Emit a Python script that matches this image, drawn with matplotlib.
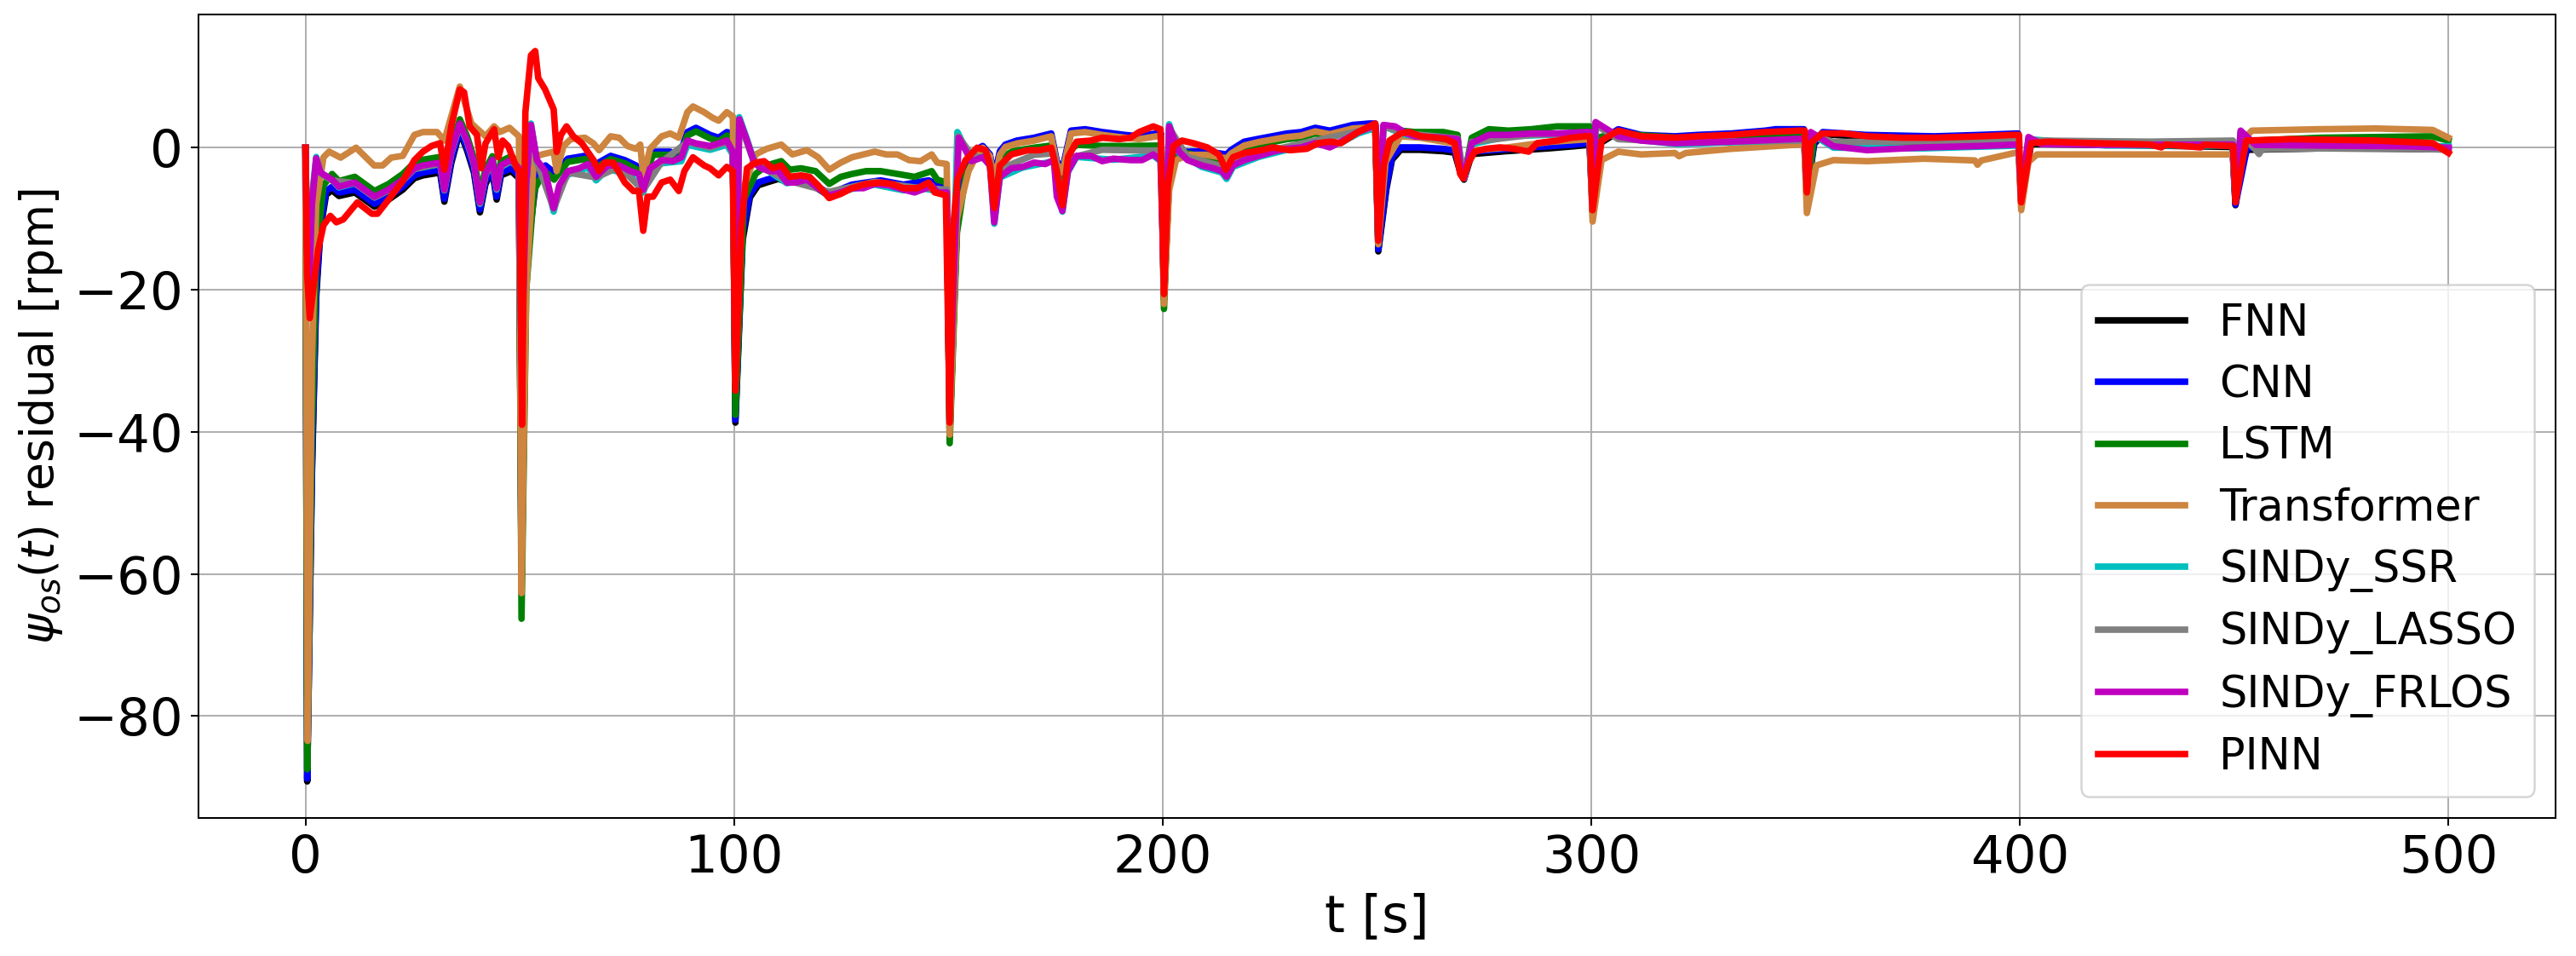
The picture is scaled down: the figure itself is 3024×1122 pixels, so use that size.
import numpy as np
import matplotlib.pyplot as plt


# residual traces, (t [s], residual [rpm]) pairs
fnn = [(0, 0), (0.4, -89.2), (1.5, -46), (2.5, -21), (3.5, -11.5), (4.8, -6.6), (6.2, -6.0), (7.8, -6.8), (11.5, -6.3),
       (16.1, -8.3), (19.4, -7.3), (22.7, -5.9), (25.4, -4.3), (27.4, -3.9), (31.4, -3.5), (32.4, -7.6), (34, -2.2),
       (36, 2.3), (37.7, -0.4), (39.3, -3.5), (40.7, -9.1), (42, -5.1), (43.6, -3.3), (44.6, -7.3), (45.6, -3.9),
       (48, -3.3), (49.8, -4.3), (50.4, -61), (51.5, -16), (54, -3.6), (56, -2.8), (58, -3.8), (61.2, -1.8),
       (65.2, -1.4), (67.2, -2.8), (71.2, -1.4), (74.5, -2.0), (77.1, -2.8), (78.8, -3.8), (81.1, -0.8), (85.1, -0.8),
       (87.1, -1.6), (89.1, 1.9), (91.1, 2.5), (94.4, 1.5), (96.4, 1.1), (98.3, 1.9), (99.7, 1.7), (100.3, -38.7),
       (102, -13), (103.7, -7.0), (105.6, -5.3), (107.6, -4.9), (110.3, -4.4), (113, -4.9), (117, -4.8), (122.2, -6.8),
       (127.5, -5.5), (134.2, -4.9), (139.5, -5.5), (145.4, -4.9), (149.6, -6.1), (150.3, -40), (152, -11),
       (154, -3.3), (156, -0.8), (158, 0.0), (159.7, -1.2), (160.7, -4.4), (162, -0.8), (163.3, 0.2), (166, 0.7),
       (170, 1.1), (174, 1.7), (175.3, -2.2), (176.6, -3.3), (178.6, 2.1), (181.9, 2.3), (185.9, 1.9), (191.2, 1.5),
       (194.5, 1.3), (198.5, 1.7), (199.6, 1.7), (200.3, -21.3), (201.5, -4.5), (203, -0.8), (205.8, -0.9),
       (210, -0.8), (214.9, -1.3), (216, -0.6), (219, 0.5), (222.4, 0.9), (229, 1.7), (232.3, 1.9), (235.6, 2.5),
       (239, 2.1), (244.3, 2.9), (249.6, 3.1), (250.3, -14.6), (252.2, -5.8), (253.5, -1.7), (255.5, -0.3),
       (260, -0.3), (265.5, -0.5), (268.1, -0.7), (269.6, -3.8), (270.3, -4.5), (272.1, -0.9), (280, -0.5),
       (290, -0.1), (296, 0.2), (299.6, 0.4), (300.3, -9.2), (302, 0.6), (306.3, 2.2), (311.6, 1.4), (319.5, 1.2),
       (332.7, 1.6), (343, 2.2), (349.6, 2.2), (350.3, -6.8), (352, 0.5), (354, 1.9), (364, 1.5), (380, 1.3),
       (390.8, 1.5), (399.6, 1.7), (400.3, -7.8), (402.6, 0.5), (420, 0.4), (449.6, 0.1), (450.3, -8.1),
       (451.5, -3), (453, -0.3), (470, -0.1), (500, -0.2)]

cnn = [(0, 0), (0.4, -88.8), (1.5, -45), (2.5, -20), (3.5, -10.9), (4.8, -6.1), (6.2, -5.5), (7.8, -6.3), (11.5, -5.9),
       (16.1, -7.9), (19.4, -6.9), (22.7, -5.5), (25.4, -3.9), (27.4, -3.5), (31.4, -3.1), (32.4, -7.2), (34, -1.8),
       (36, 2.6), (37.7, 0.0), (39.3, -3.1), (40.7, -8.7), (42, -4.7), (43.6, -2.9), (44.6, -6.9), (45.6, -3.5),
       (48, -2.9), (49.8, -3.9), (50.4, -62), (51.5, -15), (54, -3.3), (56, -2.5), (58, -3.5), (61.2, -1.55),
       (65.2, -1.15), (67.2, -2.5), (71.2, -1.15), (74.5, -1.75), (77.1, -2.5), (78.8, -3.5), (81.1, -0.56),
       (85.1, -0.56), (87.1, -1.35), (89.1, 2.2), (91.1, 2.8), (94.4, 1.8), (96.4, 1.4), (98.3, 2.2), (99.7, 2.0),
       (100.3, -38.3), (102, -12), (103.7, -6.5), (105.6, -4.9), (107.6, -4.5), (110.3, -4.1), (113, -4.6),
       (117, -4.5), (122.2, -6.5), (127.5, -5.2), (134.2, -4.6), (139.5, -5.2), (145.4, -4.6), (149.6, -5.8),
       (150.3, -40), (152, -10), (154, -3), (156, -0.5), (158, 0.24), (159.7, -0.95), (160.7, -4.1), (162, -0.5),
       (163.3, 0.44), (166, 1.0), (170, 1.4), (174, 2.0), (175.3, -1.9), (176.6, -3), (178.6, 2.4), (181.9, 2.6),
       (185.9, 2.2), (191.2, 1.8), (194.5, 1.6), (198.5, 2.0), (199.6, 2.0), (200.3, -21), (201.5, -4), (203, -0.5),
       (205.8, -0.56), (210, -0.5), (214.9, -0.95), (216, -0.3), (219, 0.84), (222.4, 1.25), (229, 2.0),
       (232.3, 2.2), (235.6, 2.8), (239, 2.4), (244.3, 3.2), (248.2, 3.4), (249.6, 3.4), (250.3, -14.3),
       (252.2, -5.3), (253.5, -1.35), (255.5, 0.04), (260, 0.04), (265.5, -0.16), (268.1, -0.36), (269.6, -3.5),
       (270.3, -4.3), (272.1, -0.56), (280, -0.2), (290, 0.2), (296, 0.44), (299.6, 0.64), (300.3, -9), (302, 1.0),
       (306.3, 2.6), (311.6, 1.8), (319.5, 1.6), (324.8, 1.8), (332.7, 2.0), (340.6, 2.4), (343, 2.6), (349.6, 2.6),
       (350.3, -6.5), (352, 0.8), (354, 2.2), (364, 1.8), (380, 1.6), (390.8, 1.8), (399.6, 2.0), (400.3, -7.6),
       (402.6, 0.8), (420, 0.7), (449.6, 0.4), (450.3, -8), (453, 0.0), (470, 0.2), (500, 0.0)]

lstm = [(0, 0), (0.4, -87.5), (1.5, -40), (2.5, -15), (4.2, -5.3), (6.2, -3.7), (7.8, -4.7), (11.5, -4.1),
        (16.1, -6.1), (19.4, -5.1), (22.7, -3.7), (25.4, -2.1), (27.4, -1.7), (31.4, -1.3), (32.4, -5.5), (34, 0),
        (36, 4.0), (37.7, 1.6), (39.3, -1.5), (40.7, -6.5), (42, -3.0), (43.6, -1.2), (44.6, -5.0), (45.6, -1.9),
        (48, -1.2), (49.8, -2.2), (50.4, -66.3), (51.5, -20), (53.3, -6.1), (54.6, -4.5), (56.6, -3.7), (58, -4.5),
        (61.2, -2.0), (65.2, -1.6), (67.2, -3.0), (71.2, -1.6), (74.5, -2.2), (77.1, -3.0), (78.8, -4.5),
        (81.1, -1.0), (85.1, -1.0), (87.1, -1.8), (89.1, 1.7), (91.1, 2.3), (94.4, 1.3), (96.4, 0.9), (98.3, 1.7),
        (99.7, 1.5), (100.3, -37.6), (102.3, -7.3), (105, -3.7), (107.6, -2.5), (111, -1.9), (113, -3.1),
        (115.6, -2.9), (119, -3.3), (122.2, -5.1), (124.9, -4.1), (127.5, -3.7), (130.8, -3.3), (134.2, -3.3),
        (138.1, -3.7), (142.1, -4.1), (146.1, -3.3), (147.4, -4.5), (149.6, -4.9), (150.3, -41.6), (152, -12),
        (154, -4), (156, -1.5), (158, -0.5), (159.7, -1.5), (160.7, -6), (162, -1.5), (165, -0.5), (170, 0.0),
        (174, 0.3), (175.3, -3.5), (176.6, -5), (178, -0.5), (180, 0.4), (185.9, 0.24), (192, 0.24), (198.5, 0.3),
        (199.6, 0.3), (200.3, -22.7), (201.5, -4), (203, -1), (206, -0.8), (210, -1.5), (213.8, -2.0), (214.9, -3),
        (216.4, -1.5), (219, 0.0), (222.4, 0.4), (229, 1.2), (232.3, 1.4), (235.6, 2.0), (239, 1.6), (244.3, 2.4),
        (249.6, 2.6), (250.3, -13.5), (252, -1), (255.5, 2.4), (258.8, 2.2), (265.5, 2.2), (268.8, 1.8),
        (269.6, -3.5), (270.3, -4.3), (272.1, 1.4), (276.1, 2.6), (280.7, 2.4), (286, 2.6), (292, 3.0),
        (299.6, 3.0), (300.3, -9), (302, 1.5), (306, 2.0), (320, 1.4), (335, 1.6), (349.6, 2.0), (350.3, -7),
        (352, 1.8), (356, 0.6), (370, 0.8), (390, 1.0), (399.6, 1.2), (400.3, -7.5), (402, 0.8), (420, 0.6),
        (449.6, 0.6), (450.3, -7.5), (452, 0.2), (455, 1.0), (470, 1.4), (496, 1.6), (500, 1.0)]

transformer = [(0, 0), (0.5, -83.5), (1.5, -30), (2.5, -8), (4.2, -1.35), (5.5, -0.56), (8.2, -1.4), (11.8, 0.0),
               (16, -2.5), (18, -2.5), (20, -1.4), (22.7, -1.15), (25.4, 1.8), (27.4, 2.2), (30.7, 2.2), (32.4, 1.0),
               (36, 8.6), (38.7, 3.4), (42, 1.6), (44, 3.0), (45.3, 2.2), (47.6, 2.8), (49.8, 1.6), (50.4, -62.7),
               (51.5, -20), (53.3, -1.35), (55.2, -0.95), (57.9, -0.56), (58.6, -3.3), (60.2, 0.24), (61.9, 1.2),
               (65.2, 1.4), (67.2, 0.6), (68.5, -0.36), (71.2, 1.6), (73.2, 1.4), (75.1, 0.24), (77.1, -0.16),
               (78.1, 0.44), (78.8, -4.0), (80.4, -0.16), (83.1, 1.6), (85.1, 2.0), (87.1, 1.4), (89.1, 5.0),
               (90.4, 5.8), (93, 5.0), (95, 4.2), (96.4, 3.8), (98.3, 5.0), (99.7, 4.4), (100.3, -33), (102, -6),
               (105, -0.95), (107.6, -0.16), (111, 0.44), (113.6, -0.95), (117, -0.36), (119.6, -1.35),
               (122.2, -3.1), (124.9, -2.1), (127.5, -1.35), (132.8, -0.56), (135.5, -0.95), (138.1, -0.95),
               (140.8, -1.75), (143.5, -1.9), (146.1, -0.95), (147.4, -2.1), (149.6, -2.3), (150.3, -40.4),
               (152, -10), (154.7, -3.3), (156, -1.75), (158, 0.0), (159.7, -1.2), (160.7, -5), (162, -1),
               (163.3, 0.1), (166, 0.6), (170, 1.0), (174, 1.6), (175.3, -2.3), (176.6, -3.5), (178.6, 2.0),
               (181.9, 2.2), (185.9, 1.8), (191.2, 1.4), (194.5, 1.2), (198.5, 1.6), (199.6, 1.6), (200.3, -22),
               (201.5, -6), (203.1, -1.75), (206, -1.0), (210, -1.0), (214.9, -1.5), (216, -0.8), (219, 0.3),
               (222.4, 0.8), (229, 1.5), (232.3, 1.7), (235.6, 2.3), (239, 1.9), (244.3, 2.7), (249.6, 2.9),
               (250.3, -13.6), (252, -2), (255.5, 1.6), (260, 1.4), (268, 0.6), (269.6, -3.5), (270.3, -4.3),
               (272.1, -0.4), (280, 0), (290, 0.8), (299.6, 1.2), (300.3, -10.4), (302.4, -1.75), (306.3, -0.56),
               (311.6, -0.95), (319.5, -0.75), (320.5, -1.2), (322, -0.75), (332.7, -0.16), (348.5, 0.44),
               (349.7, 0.44), (350.3, -9.2), (352.5, -2.5), (356.5, -1.75), (364.4, -1.9), (377.6, -1.55),
               (389.5, -1.8), (390.1, -2.4), (391, -1.8), (398.7, -0.75), (399.7, -0.75), (400.3, -8.8), (402, -2),
               (404, -0.95), (430, -0.95), (449.7, -0.95), (450.3, -7), (452, 1.0), (454.1, 2.4), (469.9, 2.6),
               (483.1, 2.7), (496.3, 2.5), (500, 1.4)]

sindy_ssr = [(0, 0), (0.4, -15), (0.8, -20), (1.5, -7), (2.5, -1.3), (3.5, -3.6), (6.2, -4.6), (7.8, -5.6),
             (11.5, -5.0), (16.1, -7.0), (19.4, -6.0), (22.7, -4.6), (25.4, -3.0), (31.4, -2.3), (32.4, -6.0),
             (34, -0.8), (36, 3.2), (37.7, 0.8), (39.3, -2.3), (40.7, -7.9), (42, -3.9), (43.6, -1.9), (44.6, -5.9),
             (45.6, -2.7), (48, -1.9), (49.8, -3.0), (50.4, -30), (51.5, -5), (52.6, 3.4), (54, -2.2), (55.9, -3.8),
             (57.9, -9.0), (59.2, -5.8), (61.2, -3.8), (65.9, -2.8), (67.8, -4.6), (70.5, -3.0), (75.8, -3.8),
             (78.8, -6.3), (80.4, -3.4), (83.1, -2.2), (87.7, -1.9), (89.1, 0.4), (94.4, -0.3), (98.3, 0.4),
             (99.7, -1.0), (100.3, -30), (101.2, 4.3), (103, 1.2), (104.7, -2.0), (108.3, -3.4), (112.3, -5.0),
             (117, -4.6), (122.2, -6.8), (127.5, -5.8), (132.8, -5.2), (139.5, -6.0), (144.8, -5.8), (149.6, -6.4),
             (150.3, -35), (152.1, 2.2), (155.4, -1.8), (158, -1.3), (159.7, -2.5), (160.7, -10.7), (162, -4.2),
             (167.3, -2.8), (174.6, -1.9), (176.6, -9.0), (177.9, -3.4), (179.9, -1.3), (188.5, -1.7), (197.8, -1.1),
             (199.5, -1.9), (200.3, -19), (201.5, 3.3), (203.8, -0.7), (209.1, -2.7), (213.8, -3.5), (214.9, -4.4),
             (216.4, -2.7), (222.4, -1.3), (229, -0.3), (235.6, 0.5), (241.6, 0.7), (245.6, 2.0), (249.7, 2.8),
             (250.3, -12), (251.5, 3.0), (256.9, 1.8), (268.8, 1.0), (270.3, -4.3), (272.1, 0.5), (280.7, 1.6),
             (298.6, 2.0), (299.7, 2.0), (300.3, -8), (301, 3.5), (306.3, 1.4), (320, 0.5), (349.8, 1.1),
             (350.3, -6), (351.2, 2.0), (356.5, 0.0), (377.6, -0.1), (399.7, 0.3), (400.3, -7), (402, 1.2),
             (420, 0.3), (449.7, 0.3), (450.3, -7), (451.5, 2.2), (455, 0.2), (500, 0.2)]

sindy_lasso = [(0, 0), (0.4, -15), (0.8, -20), (1.5, -7.5), (2.5, -1.6), (3.5, -3.6), (6.2, -4.6), (11.5, -5.0),
               (16.1, -7.0), (19.4, -6.0), (22.7, -4.6), (25.4, -3.0), (31.4, -2.2), (32.4, -6.0), (34, -0.7),
               (36, 3.3), (37.7, 0.9), (39.3, -2.2), (40.7, -7.8), (42, -3.8), (43.6, -1.8), (44.6, -5.8),
               (45.6, -2.6), (48, -1.8), (49.8, -3.0), (50.4, -30), (51.5, -5), (52.6, 3.0), (54, -2.0),
               (57.9, -8.6), (61.2, -3.5), (67.8, -4.2), (73.2, -2.7), (78.8, -6.0), (83.1, -2.0), (89.1, 0.8),
               (94.4, 0.0), (98.3, 0.8), (99.7, -0.7), (100.3, -30), (101.2, 3.8), (104.7, -2.2), (112.3, -4.6),
               (122.2, -6.2), (132.8, -4.8), (142.1, -5.6), (149.6, -5.9), (150.3, -35), (152.3, 1.6),
               (155.4, -1.0), (159.7, -1.8), (160.7, -9), (162, -3), (170, -1.0), (174.6, -0.8), (176.6, -7.5),
               (178, -1.5), (185.9, -0.3), (195, -0.4), (199.5, -0.4), (200.3, -19), (201.5, 2.8), (205.8, -1.3),
               (213.8, -2.6), (214.9, -3.6), (216.4, -2.0), (225.7, -0.3), (235.6, 1.0), (245.6, 2.3), (249.7, 2.9),
               (250.3, -12), (251.5, 3.0), (256.9, 2.0), (268.8, 1.3), (270.3, -4.3), (272.1, 0.8), (286, 1.8),
               (299.7, 2.1), (300.3, -8), (301, 3.2), (306.3, 1.2), (320, 0.8), (348.5, 1.0), (349.8, 1.0),
               (350.3, -6), (351.2, 1.8), (356.5, 0.8), (377.6, 0.9), (399.7, 1.1), (400.3, -7), (402, 1.2),
               (404, 1.0), (430.3, 0.85), (449.7, 1.0), (450.3, -7), (451.5, 1.8), (455, -0.3), (455.8, -0.9),
               (456.5, -0.2), (470, -0.1), (490, -0.1), (500, -0.3)]

sindy_frlos = [(0, 0), (0.4, -15), (0.8, -20), (1.5, -8), (2.5, -1.5), (3.5, -3.5), (6.2, -4.5), (7.8, -5.5),
               (11.5, -4.9), (16.1, -6.9), (19.4, -5.9), (22.7, -4.5), (25.4, -2.9), (27.4, -2.5), (31.4, -2.1),
               (32.4, -5.9), (34, -0.6), (36, 3.4), (37.7, 1.0), (39.3, -2.1), (40.7, -7.7), (42, -3.7),
               (43.6, -1.7), (44.6, -5.7), (45.6, -2.5), (48, -1.7), (49.8, -2.9), (50.4, -30), (51.5, -5),
               (52.6, 3.2), (54, -1.75), (55.9, -3.3), (57.9, -8.5), (59.2, -5.3), (61.2, -3.3), (63.9, -2.9),
               (65.9, -2.3), (67.8, -4.1), (70.5, -2.5), (73.2, -2.5), (75.8, -3.3), (77.8, -3.7), (78.8, -5.9),
               (80.4, -2.9), (83.1, -1.75), (85.7, -1.9), (87.7, -1.35), (89.1, 1.0), (91.1, 0.6), (94.4, 0.24),
               (96.4, 0.6), (98.3, 1.0), (99.7, -0.56), (100.3, -30), (101.2, 4.0), (103, 1.0), (104.7, -2.1),
               (106.3, -2.9), (108.3, -3.3), (110.3, -3.3), (112.3, -4.9), (114.3, -4.9), (117, -4.5),
               (119.6, -5.7), (122.2, -6.7), (124.9, -6.3), (127.5, -5.7), (130.2, -5.7), (132.8, -5.1),
               (136.2, -5.3), (139.5, -5.9), (142.1, -6.3), (144.8, -5.7), (146.1, -5.3), (147.4, -6.3),
               (149.6, -6.3), (150.3, -35), (152.4, 1.4), (155.4, -1.9), (158, -1.35), (159.7, -2.5),
               (160.7, -10.5), (162, -4.1), (164.7, -2.9), (167.3, -2.7), (170, -2.1), (172.6, -2.3),
               (174.6, -1.75), (175.3, -6.9), (176.6, -8.9), (177.9, -3.3), (179.9, -1.15), (183.2, -1.15),
               (185.9, -1.9), (188.5, -1.55), (192.5, -1.75), (195.2, -1.75), (197.8, -0.95), (199.5, -1.75),
               (200.3, -19), (201.5, 3.0), (203.8, -0.56), (205.8, -1.75), (209.1, -2.5), (211.8, -2.9),
               (213.8, -3.3), (214.9, -4.1), (216.4, -2.5), (219.1, -1.75), (222.4, -1.15), (225.7, -0.56),
               (229, -0.16), (232.3, 0.04), (235.6, 0.64), (239, 0.04), (241.6, 0.84), (245.6, 2.2), (248.9, 3.0),
               (249.7, 3.0), (250.3, -12), (251.5, 3.2), (254.2, 3.0), (256.9, 2.0), (258.8, 1.6), (265.5, 1.4),
               (268.8, 1.2), (269.6, -3.5), (270.3, -4.3), (272.1, 0.64), (276.1, 1.8), (280.7, 1.8), (286, 2.0),
               (292, 2.0), (298.6, 2.2), (299.7, 2.2), (300.3, -8), (301, 3.6), (306.3, 1.6), (311.6, 1.0),
               (319.5, 0.64), (332.7, 0.84), (348.5, 1.25), (349.8, 1.25), (350.3, -6), (351.2, 2.2),
               (356.5, 0.2), (364.4, -0.36), (377.6, 0.04), (390.8, 0.24), (399.7, 0.44), (400.3, -7), (402, 1.5),
               (405, 0.5), (420, 0.4), (449.7, 0.44), (450.3, -7), (451.5, 2.4), (455, 0.4), (470, 0.3),
               (490, 0.2), (500, 0.0)]

pinn = [(0, 0), (0.4, -18), (1.0, -24), (2.0, -19), (2.9, -14.5), (4.2, -10.9), (5.8, -9.6), (7.2, -10.5),
        (8.8, -10.1), (12.1, -7.7), (15.5, -9.3), (16.8, -9.3), (19.4, -7.3), (22.7, -4.7), (25.4, -1.75),
        (27.4, -0.56), (29.4, 0.24), (31.4, 0.64), (32.4, -3.1), (34, 3.0), (36, 8.2), (37, 7.8), (38.3, 3.0),
        (40, 1.8), (41, -2.9), (42, 0.6), (44, 2.6), (45, -1.35), (46, 1.0), (47.3, 0.2), (49.3, -2.9), (50.0, -3.5),
        (50.5, -39), (51.3, 5.0), (52.6, 13), (53.6, 13.6), (54.3, 9.8), (55.9, 8.2), (57.9, 5.4), (58.6, -0.6),
        (59.6, 1.8), (60.9, 3.0), (62.5, 1.6), (64.5, 0.6), (67.2, -1.75), (68.5, -3.3), (69.8, -2.1), (71.8, -2.1),
        (74.5, -4.9), (76.5, -6.1), (77.8, -6.1), (78.8, -11.7), (79.8, -6.9), (81.1, -6.9), (83.1, -4.9),
        (85.1, -4.5), (87.1, -6.1), (88.4, -3.3), (90.4, -1.35), (93, -2.5), (94.4, -2.9), (96.4, -3.9),
        (98.3, -2.7), (99.7, -3.3), (100.3, -34.2), (101.7, -11.3), (103, -2.9), (105, -2.1), (107, -1.9),
        (109, -2.9), (111, -2.5), (113, -4.1), (115.6, -3.9), (117.6, -4.1), (119.6, -5.3), (122.2, -7.1),
        (124.9, -6.5), (127.5, -5.7), (130.8, -5.1), (134.2, -4.9), (136.8, -5.1), (139.5, -5.7), (142.8, -5.7),
        (145.4, -4.9), (146.8, -6.3), (149.4, -6.7), (150.3, -38.7), (151.1, -11.3), (152.1, -4.5), (154, -1.75),
        (156.7, 0.0), (158.7, -0.36), (159.7, -2.5), (160.7, -8.5), (162, -2.5), (164.7, -0.95), (168.6, -0.36),
        (171.3, -0.36), (174, 0.0), (175.3, -3.3), (176.6, -8.1), (177.9, -1.35), (179.9, 0.84), (183.2, 1.0),
        (185.9, 1.4), (189.9, 1.2), (192.5, 1.4), (194.5, 2.2), (197.8, 3.0), (199.5, 2.6), (200.3, -20.6),
        (201.2, -5.3), (202.5, 0.24), (204.5, 1.0), (207.1, 0.64), (210.4, 0.04), (213.1, -0.95), (214.7, -3.1),
        (216.4, -1.35), (219.1, -0.75), (223, -0.36), (225.7, 0.04), (229.7, -0.36), (233.6, -0.16), (236.3, 0.64),
        (239, 0.84), (241.6, 0.64), (245.6, 2.2), (248.2, 3.0), (249.6, 3.4), (250.3, -13.1), (251.6, -2.5),
        (252.9, 1.0), (255.5, 2.0), (257.5, 2.2), (260.2, 1.6), (263.5, 1.4), (266.1, 1.2), (268.1, 0.64),
        (269.4, -3.7), (270.1, -4.3), (271.4, -2.1), (272.8, -0.56), (275.4, -0.16), (278.7, 0.04), (282, -0.16),
        (285.4, -0.56), (287.4, 0.64), (292, 1.0), (295.3, 1.4), (298.6, 1.6), (299.7, 1.6), (300.3, -8.8),
        (302.4, 1.0), (306.3, 2.4), (311.6, 1.6), (319.5, 1.4), (324.8, 1.6), (332.7, 1.8), (340.6, 2.2),
        (348.5, 2.4), (349.8, 2.4), (350.3, -6.3), (351.2, 0.64), (353.8, 2.0), (359.1, 2.0), (364.4, 1.6),
        (372.3, 1.4), (380.2, 1.4), (390.8, 1.6), (398.7, 1.8), (399.8, 1.8), (400.3, -7.7), (402.6, 0.64),
        (406.6, 0.84), (417.2, 0.64), (430.3, 0.44), (433, 0.04), (434, 0.44), (442.2, 0.04), (443, 0.4),
        (448.8, 0.24), (449.8, 0.24), (450.3, -7.7), (452.8, 1.0), (463.3, 1.2), (483.1, 1.0), (496.3, 0.64),
        (500, -0.75)]

labels = ['FNN', 'CNN', 'LSTM', 'Transformer', 'SINDy_SSR', 'SINDy_LASSO', 'SINDy_FRLOS', 'PINN']
colors = ['k', 'b', 'g', 'peru', 'c', 'gray', 'm', 'r']
series = [fnn, cnn, lstm, transformer, sindy_ssr, sindy_lasso, sindy_frlos, pinn]


# draw all residual traces on one axis
fig = plt.figure(figsize=(3024 / 183, 1122 / 183), dpi=183)
ax = fig.add_axes([0.077, 0.1444, 0.9151, 0.8404])

for data, label, color in zip(series, labels, colors):
    t, v = np.array(data).T
    ax.plot(t, v, color=color, lw=3, label=label)

ax.set_xlabel('t [s]', fontsize=24)
ax.set_ylabel(r'$\psi_{os}(t)$ residual [rpm]', fontsize=21)
ax.tick_params(labelsize=24)
ax.grid(True)
ax.legend(loc='lower right', fontsize=20, labelspacing=0.44)

fig.savefig('out.png', dpi=183)
